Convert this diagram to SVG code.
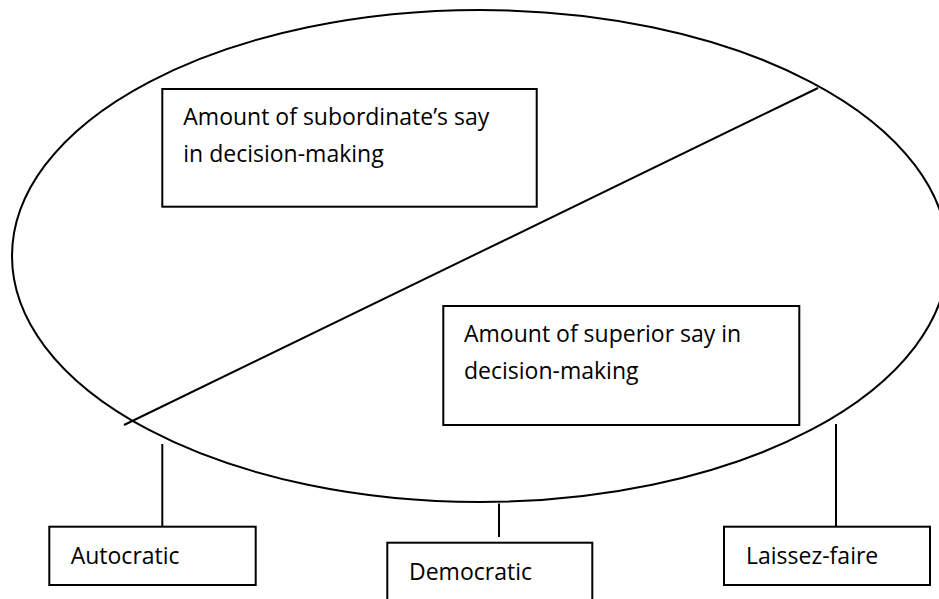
<svg xmlns="http://www.w3.org/2000/svg" width="939" height="599" viewBox="0 0 939 599">
<style>
.s{fill:none;stroke:#000;stroke-width:2}
.b{fill:#fff;stroke:#000;stroke-width:2}
.t{font-family:"Open Sans","Liberation Sans",sans-serif;font-size:23px;fill:#000}
</style>
<rect width="939" height="599" fill="#fff"/>
<g id="oval">
<ellipse class="s" cx="480" cy="256" rx="468" ry="246"/>
<line class="s" x1="124" y1="425" x2="818" y2="88"/>
</g>
<g id="connectors">
<line class="s" x1="162.3" y1="444" x2="162.3" y2="527"/>
<line class="s" x1="499" y1="503.5" x2="499" y2="537"/>
<line class="s" x1="836" y1="424" x2="836" y2="533.5"/>
</g>
<g id="subordinate">
<rect class="b" x="162.3" y="89" width="374.4" height="117.7"/>
<text class="t" x="183.3" y="125">Amount of subordinate’s say</text>
<text class="t" x="183.3" y="161.7">in decision-making</text>
</g>
<g id="superior">
<rect class="b" x="443.3" y="306" width="356" height="119"/>
<text class="t" x="464" y="341.7">Amount of superior say in</text>
<text class="t" x="464" y="378.5">decision-making</text>
</g>
<g id="autocratic">
<rect class="b" x="49.3" y="526.7" width="206.4" height="58.3"/>
<text class="t" x="70.7" y="564.3">Autocratic</text>
</g>
<g id="democratic">
<rect class="b" x="387.3" y="542.7" width="205" height="70"/>
<text class="t" x="409" y="580">Democratic</text>
</g>
<g id="laissez-faire">
<rect class="b" x="724" y="526.7" width="206" height="58.3"/>
<text class="t" x="746" y="564">Laissez-faire</text>
</g>
</svg>
